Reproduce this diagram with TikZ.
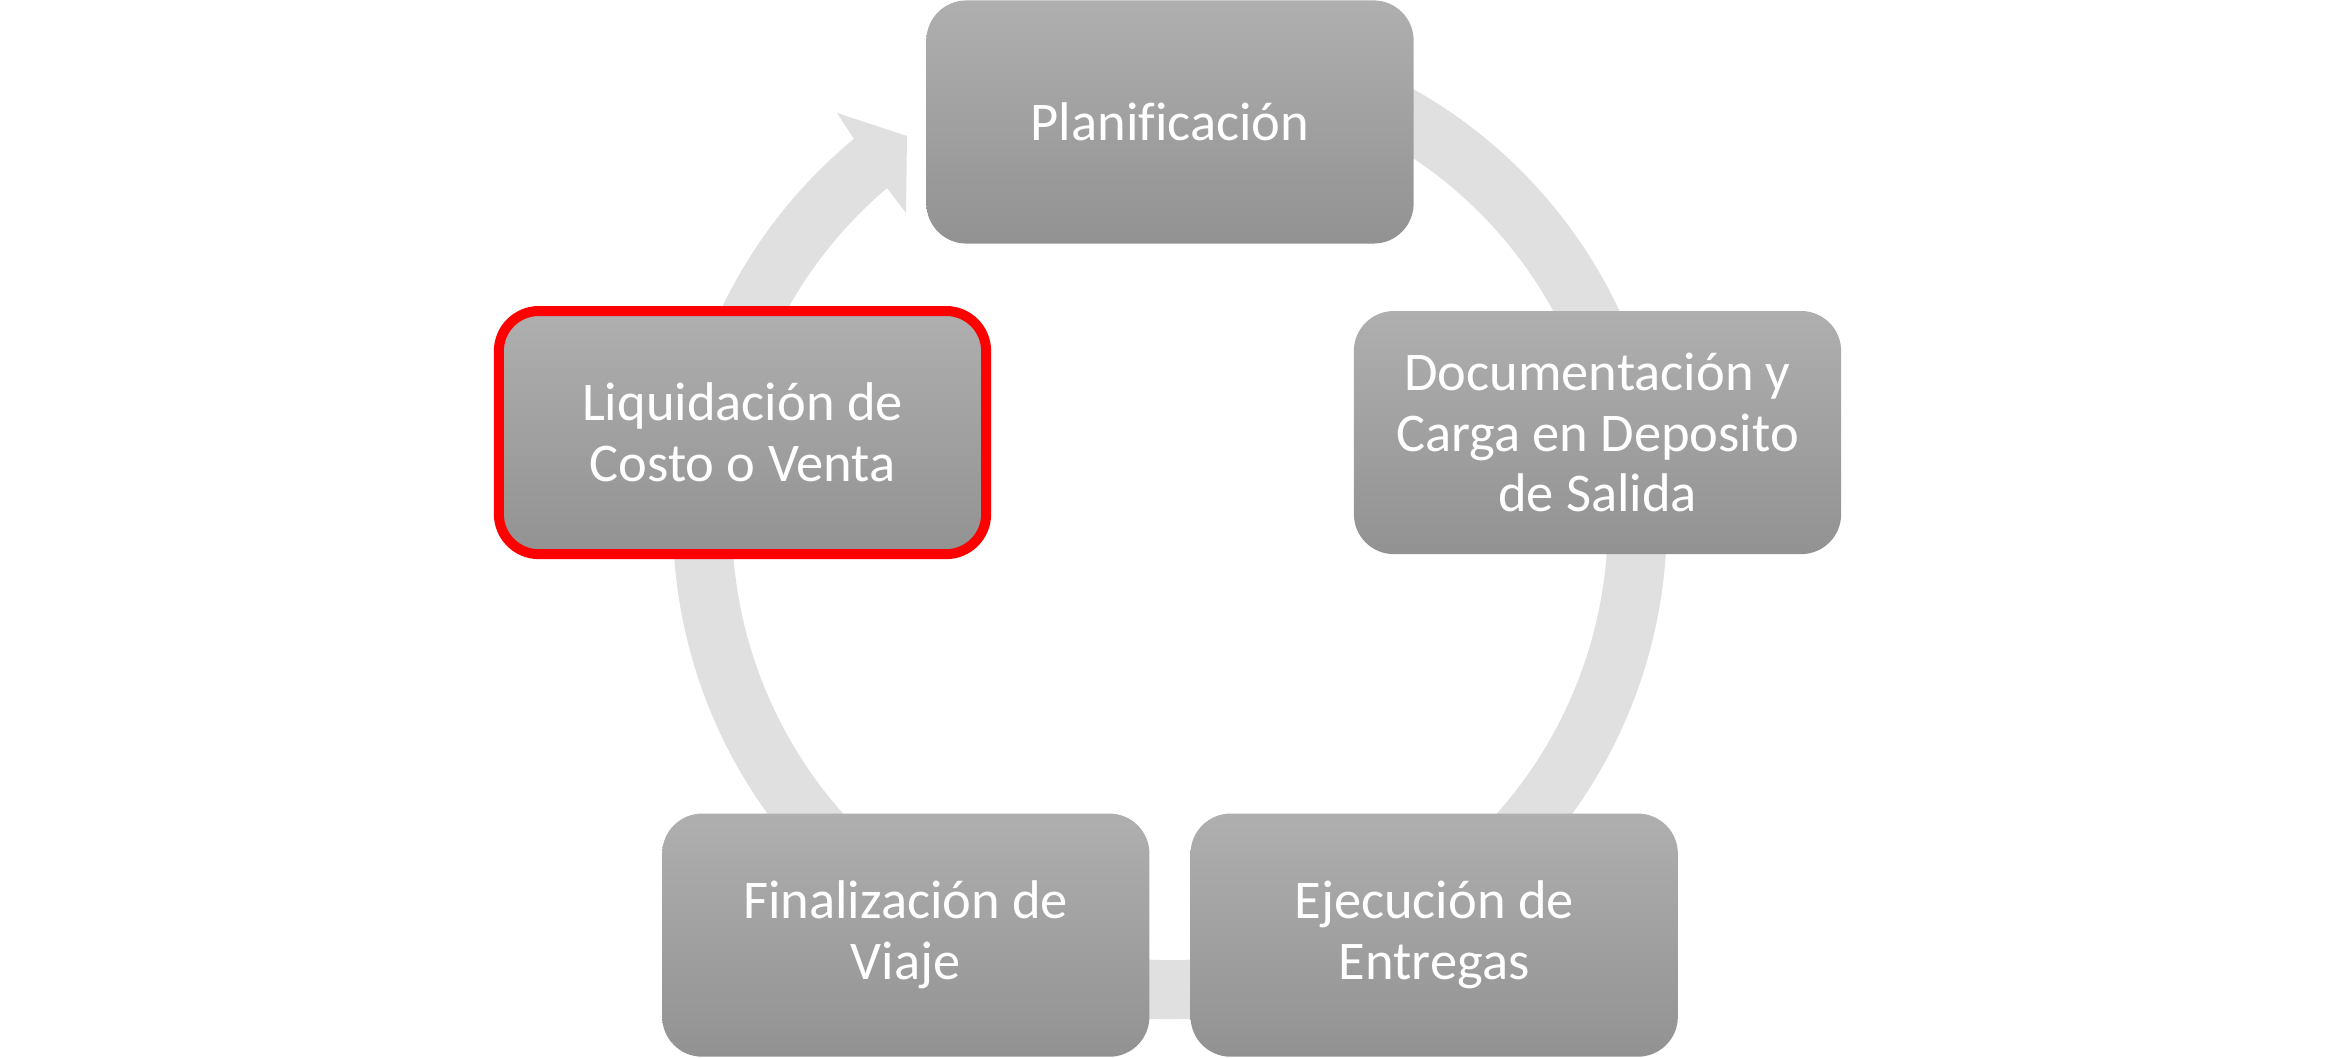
\documentclass[tikz,border=0pt]{standalone}
\usepackage{fontspec}
\setmainfont{Carlito}[Ligatures=CommonOff]
\usetikzlibrary{positioning}

\definecolor{ringgray}{RGB}{224,224,224}
\definecolor{boxtop}{RGB}{175,175,175}
\definecolor{boxbottom}{RGB}{146,146,146}

\tikzset{
  stage/.style={rounded corners=4mm, minimum width=48.7mm, minimum height=24.3mm,
    top color=boxtop, bottom color=boxbottom, text=white, align=center,
    font=\fontsize{15.5}{17.3}\selectfont},
  current/.style={stage, draw=red, line width=1mm},
  ring/.style={draw=ringgray, line width=5.9mm},
}

\begin{document}
\begin{tikzpicture}[x=0.01cm,y=0.01cm]
        \useasboundingbox (0,0) rectangle (2341,1058);

        % the ring and its head
        \draw[ring] (1170,536) ++(70:467) arc[start angle=70, end angle=-231, radius=4.67cm];
        \fill[ringgray] (854,919) -- (837,945) -- (907,922) -- (906,845) -- (887,870) -- cycle;

        % the five stages
        \begin{scope}[shift={(1170,486.5)}]
        \node[stage] (plan) at (90:449.5) {Planificación};
        \node[stage] (docs) at (18:449.5) {Documentación y\\Carga en Deposito\\de Salida};
        \node[stage] (deliver) at (-54:449.5) {Ejecución de\\Entregas};
        \node[stage] (finish) at (-126:449.5) {Finalización de\\Viaje};
        \node[current] (settle) at (162:449.5) {Liquidación de\\Costo o Venta};
        \end{scope}
\end{tikzpicture}
\end{document}
